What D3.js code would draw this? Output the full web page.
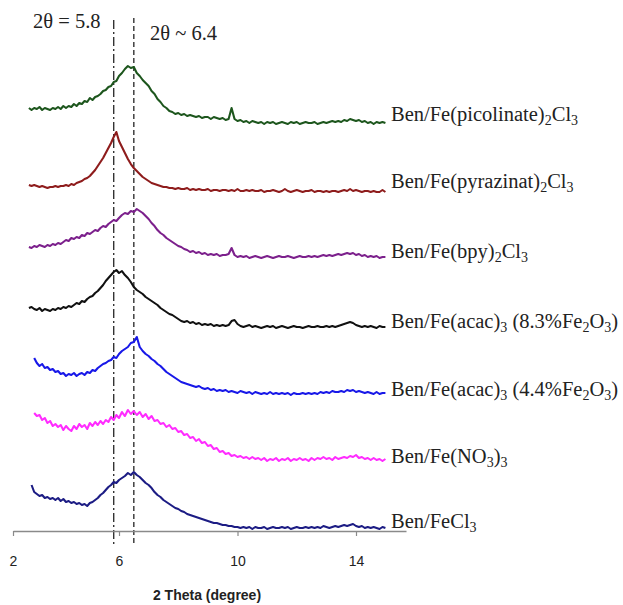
<!DOCTYPE html>
<html>
<head>
<meta charset="utf-8">
<script src="https://cdn.jsdelivr.net/npm/d3@7"></script>
<style>
  body { margin: 0; background: #fff; }
</style>
</head>
<body>
<svg id="xrd" width="623" height="605"></svg>
<script>
// 2 theta sampling (degree)
const theta = [
  2.6,2.7,2.8,2.9,3.0,3.1,3.2,3.3,3.4,3.5,
  3.6,3.7,3.8,3.9,4.0,4.1,4.2,4.3,4.4,4.5,
  4.6,4.7,4.8,4.9,5.0,5.1,5.2,5.3,5.4,5.5,
  5.6,5.7,5.8,5.9,6.0,6.1,6.2,6.3,6.4,6.5,
  6.6,6.7,6.8,6.9,7.0,7.1,7.2,7.3,7.4,7.5,
  7.6,7.7,7.8,7.9,8.0,8.1,8.2,8.3,8.4,8.5,
  8.6,8.7,8.8,8.9,9.0,9.1,9.2,9.3,9.4,9.5,
  9.6,9.7,9.8,9.9,10.0,10.1,10.2,10.3,10.4,10.5,
  10.6,10.7,10.8,10.9,11.0,11.1,11.2,11.3,11.4,11.5,
  11.6,11.7,11.8,11.9,12.0,12.1,12.2,12.3,12.4,12.5,
  12.6,12.7,12.8,12.9,13.0,13.1,13.2,13.3,13.4,13.5,
  13.6,13.7,13.8,13.9,14.0,14.1,14.2,14.3,14.4,14.5,
  14.6,14.7,14.8,14.9,15.0
];

// intensities (a.u.), each above its own offset
const picolinate = [
  15,13,15,14,16,13,15,14,13,15, 14,16,14,17,15,17,16,19,17,20,
  19,22,21,25,23,26,27,29,32,33, 36,37,41,42,47,50,54,57,55,56,
  50,47,43,40,37,32,29,24,21,17, 15,12,11,9,10,8,9,7,8,7,
  6,7,5,6,6,4,6,5,4,5, 3,4,15,4,2,3,1,2,0,2,
  1,0,1,-1,1,0,1,-1,0,1, 0,-1,1,0,1,-1,0,1,0,0,
  1,-1,0,1,0,1,2,1,2,1, 3,2,4,3,2,3,1,2,0,1,
  -1,1,0,1,0
];
const pyrazinat = [
  7,6,7,6,5,6,5,4,5,5, 6,5,6,6,7,6,8,7,9,10,
  11,13,14,16,19,22,26,30,34,39, 44,49,55,60,51,45,39,33,28,24,
  21,18,15,13,11,9,8,7,6,5, 5,4,4,3,4,3,3,4,2,3,
  2,3,2,2,3,1,2,2,1,2, 2,1,2,1,3,1,1,2,1,2,
  1,1,2,0,1,1,2,1,0,1, 3,1,0,1,2,1,0,1,1,2,
  0,1,1,0,1,0,1,1,0,1, 2,1,3,1,2,1,0,1,1,0,
  1,0,0,2,0
];
const bpy = [
  10,9,11,10,12,11,10,12,11,13, 12,14,13,15,17,16,19,18,20,19,
  22,21,24,23,25,27,26,29,31,30, 33,35,37,36,39,42,44,43,46,45,
  48,46,44,41,38,34,31,27,24,22, 19,17,15,13,11,10,8,7,5,6,
  4,5,3,4,2,3,2,3,1,2, 2,3,9,2,0,1,0,1,-1,0,
  1,0,-1,0,1,0,-1,0,1,0, 0,1,0,-1,0,1,0,0,1,0,
  1,0,1,2,1,2,1,2,3,2, 3,4,3,4,2,3,1,2,0,1,
  0,1,-1,0,0
];
const acac83 = [
  19,20,18,17,19,16,18,17,16,18, 17,19,18,20,19,21,20,22,24,23,
  26,25,28,30,31,34,36,39,42,46, 49,52,55,57,54,56,52,49,45,40,
  37,35,33,30,28,26,24,22,19,17, 15,13,12,10,8,6,5,6,4,5,
  3,4,2,3,2,3,1,2,1,2, 1,2,6,7,3,1,0,1,2,0,
  1,0,-1,0,1,0,1,-1,0,1, 0,-1,0,1,0,0,-1,0,1,0,
  0,1,0,0,1,0,1,0,1,2, 3,4,5,4,2,1,0,1,0,1,
  0,-1,1,0,0
];
const acac44 = [
  null,null,36,31,28,30,26,27,24,25, 22,23,20,21,18,20,19,21,18,20,
  21,19,22,21,24,23,26,28,30,31, 33,34,37,36,40,43,45,47,51,52,
  57,47,43,40,38,35,33,30,28,25, 22,20,18,16,14,12,11,10,9,8,
  7,8,6,5,6,4,5,3,4,3, 4,2,3,2,1,3,2,1,2,0,
  2,1,0,1,0,2,0,1,0,1, 0,1,-1,1,0,0,1,0,1,0,
  1,0,2,1,2,1,3,2,2,3, 2,4,3,4,2,3,2,1,2,1,
  0,2,0,1,1
];
const nitrate = [
  null,null,47,44,45,40,42,37,39,34, 36,33,35,30,34,31,29,34,31,36,
  33,35,31,37,34,38,35,39,36,40, 38,43,40,45,42,48,44,50,46,49,
  45,48,43,46,41,44,39,40,36,37, 33,35,31,32,28,29,25,26,22,23,
  19,21,17,18,14,15,11,12,8,9, 6,7,4,5,3,4,2,3,1,3,
  1,2,0,2,-1,1,0,2,-1,1, 0,2,-1,1,0,2,0,1,-1,2,
  0,2,1,3,1,2,0,3,1,2, 3,2,4,3,5,2,3,1,2,0,
  2,0,1,-1,1
];
const chloride = [
  null,43,36,34,32,33,30,31,29,30, 28,30,27,29,26,27,25,26,24,25,
  23,24,22,25,26,28,30,33,35,38, 41,43,46,45,48,50,52,55,53,56,
  53,51,48,45,43,40,36,33,31,28, 26,24,22,20,19,17,16,14,13,12,
  11,10,9,8,7,6,5,5,4,3, 3,2,2,1,1,0,1,0,1,-1,
  1,0,0,1,-1,0,1,0,0,1, 0,1,-1,0,1,0,0,1,0,1,
  0,1,0,2,1,0,1,2,1,2, 3,2,3,4,2,1,2,0,1,0,
  1,0,-1,1,0
];

const seriesValues = [picolinate, pyrazinat, bpy, acac83, acac44, nitrate, chloride];
const offsets = [408, 339, 274, 204, 137, 71, 3];
// "_" marks a one-character subscript
const sampleNames = [
  "Ben/Fe(picolinate)_2Cl_3",
  "Ben/Fe(pyrazinat)_2Cl_3",
  "Ben/Fe(bpy)_2Cl_3",
  "Ben/Fe(acac)_3 (8.3%Fe_2O_3)",
  "Ben/Fe(acac)_3 (4.4%Fe_2O_3)",
  "Ben/Fe(NO_3)_3",
  "Ben/FeCl_3"
];
const sampleColors = ["#1d561d", "#8e1c1c", "#7c208c", "#111111", "#1818e8", "#ff2cff", "#1c1c84"];
const labelBaselines = [121, 188, 258, 328, 396, 463, 528];

const refLines = [5.8, 6.5];
const refLabels = ["2\u03b8 = 5.8", "2\u03b8 ~ 6.4"];
const xTicks = [2, 6, 10, 14];

const serif = "'Liberation Serif', 'Times New Roman', serif";
const sans = "'Liberation Sans', Arial, sans-serif";

const svg = d3.select("#xrd");

// axis start is compressed in the original, so use a piecewise scale
const x = d3.scaleLinear()
  .domain([2, 6, 14, 15.7])
  .range([13, 119, 356, 406]);

const y = d3.scaleLinear()
  .domain([0, 531])
  .range([531, 0]);

// reference lines
svg.append("line")
  .attr("x1", x(refLines[0])).attr("x2", x(refLines[0]))
  .attr("y1", 20).attr("y2", 547)
  .attr("stroke", "#333").attr("stroke-width", 1.4)
  .attr("stroke-dasharray", "9,3,2,3");
svg.append("line")
  .attr("x1", x(refLines[1])).attr("x2", x(refLines[1]))
  .attr("y1", 18).attr("y2", 543)
  .attr("stroke", "#333").attr("stroke-width", 1.4)
  .attr("stroke-dasharray", "5,3");

svg.append("text")
  .attr("x", 33).attr("y", 28)
  .style("font-family", serif)
  .style("font-size", "20.5px").attr("fill", "#222")
  .text(refLabels[0]);
svg.append("text")
  .attr("x", 150).attr("y", 40)
  .style("font-family", serif)
  .style("font-size", "20.5px").attr("fill", "#222")
  .text(refLabels[1]);

// x axis
const xAxis = d3.axisBottom(x)
  .tickValues(xTicks)
  .tickSizeInner(5)
  .tickSizeOuter(0)
  .tickPadding(20);

const gx = svg.append("g")
  .attr("transform", "translate(0,531)")
  .call(xAxis);
gx.select(".domain").attr("stroke", "#8a8a8a").attr("stroke-width", 1.6);
gx.selectAll(".tick line").attr("stroke", "#8a8a8a").attr("stroke-width", 1.2);
gx.selectAll(".tick text")
  .style("font-family", sans)
  .style("font-size", "14px")
  .attr("fill", "#222");

svg.append("text")
  .attr("x", 207).attr("y", 600)
  .style("text-anchor", "middle")
  .style("font-family", sans)
  .style("font-size", "14px")
  .style("font-weight", "bold")
  .attr("fill", "#222")
  .text("2 Theta (degree)");

// patterns
const line = d3.line()
  .defined(d => d[1] != null)
  .x(d => x(d[0]))
  .y(d => y(d[1]));

seriesValues.forEach((vals, i) => {
  const pts = theta.map((t, j) => [t, vals[j] == null ? null : vals[j] + offsets[i]]);
  svg.append("path")
    .datum(pts)
    .attr("fill", "none")
    .attr("stroke", sampleColors[i])
    .attr("stroke-width", 2.1)
    .attr("stroke-linejoin", "round")
    .attr("d", line);
});

// sample labels with subscripts
sampleNames.forEach((name, i) => {
  const txt = svg.append("text")
    .attr("x", 391).attr("y", labelBaselines[i])
    .style("font-family", serif)
    .style("font-size", "20.5px")
    .attr("fill", "#222");
  const parts = name.split("_");
  txt.append("tspan").text(parts[0]);
  parts.slice(1).forEach(p => {
    txt.append("tspan").attr("dy", 4).style("font-size", "14px").text(p[0]);
    txt.append("tspan").attr("dy", -4).text(p.slice(1));
  });
});
</script>
</body>
</html>
